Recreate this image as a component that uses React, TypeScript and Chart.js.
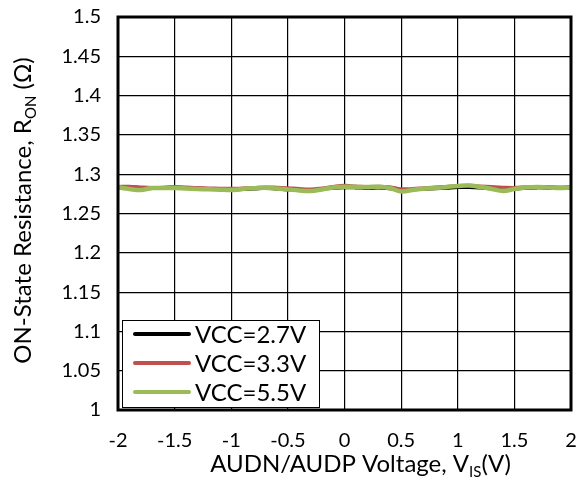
import React, { useEffect, useRef } from 'react';
import { Chart, registerables } from 'chart.js';

Chart.register(...registerables);

// ---- data ----
const xValues = [
  -2.0, -1.9, -1.8, -1.7, -1.6, -1.5, -1.4, -1.3, -1.2, -1.1, -1.0, -0.9, -0.8, -0.7,
  -0.6, -0.5, -0.4, -0.3, -0.2, -0.1, 0.0, 0.1, 0.2, 0.3, 0.4, 0.5, 0.6, 0.7, 0.8, 0.9,
  1.0, 1.1, 1.2, 1.3, 1.4, 1.5, 1.6, 1.7, 1.8, 1.9, 2.0,
];

const vcc27 = [
  1.2828, 1.2815, 1.2808, 1.2818, 1.2822, 1.2826, 1.2822, 1.2818, 1.2812, 1.2806, 1.28,
  1.2805, 1.2812, 1.282, 1.2812, 1.28, 1.2792, 1.2795, 1.2808, 1.2822, 1.2828, 1.2826,
  1.282, 1.2825, 1.2815, 1.28, 1.2802, 1.281, 1.2815, 1.2822, 1.283, 1.2832, 1.2825,
  1.2812, 1.28, 1.2808, 1.282, 1.2826, 1.2822, 1.2818, 1.2822,
];

const vcc33 = [
  1.2845, 1.2848, 1.2838, 1.2832, 1.2835, 1.2845, 1.2838, 1.283, 1.2826, 1.2822, 1.282,
  1.2825, 1.283, 1.2838, 1.2835, 1.2828, 1.2818, 1.2812, 1.2825, 1.2845, 1.2858, 1.285,
  1.284, 1.2848, 1.2842, 1.2815, 1.2818, 1.2828, 1.2838, 1.2845, 1.2852, 1.2858, 1.285,
  1.2842, 1.2835, 1.2832, 1.284, 1.2845, 1.2842, 1.2838, 1.2843,
];

const vcc55 = [
  1.2833, 1.2812, 1.2799, 1.2824, 1.2824, 1.2824, 1.2818, 1.2812, 1.2808, 1.2803, 1.2799,
  1.2812, 1.2821, 1.2828, 1.2818, 1.2806, 1.2793, 1.2786, 1.2806, 1.2831, 1.2841, 1.2837,
  1.2837, 1.2841, 1.2824, 1.278, 1.2799, 1.2816, 1.2824, 1.2837, 1.285, 1.2856, 1.2837,
  1.2812, 1.2786, 1.2812, 1.2831, 1.2837, 1.2831, 1.2824, 1.2831,
];

const seriesLabels = ['VCC=2.7V', 'VCC=3.3V', 'VCC=5.5V'];
const seriesColors = ['#000000', '#C0504D', '#9BBB59'];
const seriesWidths = [3, 3, 4.5];

const xTickLabels = ['-2', '-1.5', '-1', '-0.5', '0', '0.5', '1', '1.5', '2'];
const yTickLabels = ['1', '1.05', '1.1', '1.15', '1.2', '1.25', '1.3', '1.35', '1.4', '1.45', '1.5'];

const FONT = 'Lato, "Open Sans", sans-serif';

type Part = { text: string; sub?: boolean };

function drawRich(ctx: CanvasRenderingContext2D, parts: Part[], size: number) {
  const subSize = Math.round(size * 0.62);
  let total = 0;
  const widths = parts.map((p) => {
    ctx.font = `${p.sub ? subSize : size}px ${FONT}`;
    const w = ctx.measureText(p.text).width;
    total += w;
    return w;
  });
  let x = -total / 2;
  parts.forEach((p, i) => {
    ctx.font = `${p.sub ? subSize : size}px ${FONT}`;
    ctx.fillText(p.text, x, p.sub ? size * 0.2 : 0);
    x += widths[i];
  });
}

const framePlugin = {
  id: 'frameAndTitles',
  afterDatasetsDraw(chart: any) {
    const { ctx, chartArea } = chart;
    const { left, right, top, bottom } = chartArea;
    ctx.save();
    ctx.strokeStyle = '#000';
    ctx.lineWidth = 3;
    ctx.strokeRect(left, top, right - left, bottom - top);
    ctx.restore();
  },
  afterDraw(chart: any) {
    const { ctx, chartArea } = chart;
    const { left, right, top, bottom } = chartArea;
    ctx.save();
    ctx.fillStyle = '#000';
    ctx.textBaseline = 'alphabetic';
    ctx.textAlign = 'left';
    // x title
    ctx.save();
    ctx.translate((left + right) / 2 + 16, 472);
    drawRich(
      ctx,
      [{ text: 'AUDN/AUDP Voltage, V' }, { text: 'IS', sub: true }, { text: '(V)' }],
      24
    );
    ctx.restore();
    // y title
    ctx.save();
    ctx.translate(31, (top + bottom) / 2 - 3);
    ctx.rotate(-Math.PI / 2);
    drawRich(
      ctx,
      [{ text: 'ON-State Resistance, R' }, { text: 'ON', sub: true }, { text: ' (\u03A9)' }],
      24
    );
    ctx.restore();

    // legend
    const bx = left + 4;
    const by = bottom - 90;
    const bw = 197;
    const bh = 87;
    ctx.fillStyle = '#fff';
    ctx.fillRect(bx, by, bw, bh);
    ctx.strokeStyle = '#000';
    ctx.lineWidth = 1;
    ctx.strokeRect(bx + 0.5, by + 0.5, bw, bh);
    ctx.font = `24px ${FONT}`;
    ctx.textBaseline = 'middle';
    seriesLabels.forEach((label, i) => {
      const cy = by + 14 + i * 29;
      ctx.strokeStyle = seriesColors[i];
      ctx.lineWidth = 4;
      ctx.lineCap = 'round';
      ctx.beginPath();
      ctx.moveTo(bx + 13, cy);
      ctx.lineTo(bx + 67, cy);
      ctx.stroke();
      ctx.fillStyle = '#000';
      ctx.fillText(label, bx + 73, cy + 1);
    });
    ctx.restore();
  },
};

export default function App() {
  const ref = useRef<HTMLCanvasElement>(null);
  useEffect(() => {
    document.body.style.margin = '0';
    const series = [vcc27, vcc33, vcc55];
    const chart = new Chart(ref.current as HTMLCanvasElement, {
      type: 'line',
      data: {
        datasets: series.map((vals, i) => ({
          label: seriesLabels[i],
          data: vals.map((v, j) => ({ x: xValues[j], y: v })),
          borderColor: seriesColors[i],
          backgroundColor: seriesColors[i],
          borderWidth: seriesWidths[i],
          pointRadius: 0,
          tension: 0.4,
          fill: false,
          order: 2 - i,
        })),
      },
      options: {
        responsive: false,
        animation: false,
        devicePixelRatio: 1,
        layout: { padding: { top: 17, right: 13, left: 0, bottom: 0 } },
        plugins: { legend: { display: false }, tooltip: { enabled: false } },
        scales: {
          x: {
            type: 'linear',
            min: -2,
            max: 2,
            afterBuildTicks: (scale: any) => {
              scale.ticks = xTickLabels.map((t) => ({ value: parseFloat(t) }));
            },
            afterFit: (scale: any) => {
              scale.height = 69;
              scale.paddingLeft = 0;
              scale.paddingRight = 0;
            },
            ticks: {
              callback: (_v: any, i: number) => xTickLabels[i],
              color: '#000',
              font: { family: FONT, size: 20 },
              padding: 19,
              maxRotation: 0,
            },
            grid: { color: '#000', lineWidth: 1.2, drawTicks: false },
            border: { display: false },
          },
          y: {
            type: 'linear',
            min: 1,
            max: 1.5,
            afterBuildTicks: (scale: any) => {
              scale.ticks = yTickLabels.map((t) => ({ value: parseFloat(t) }));
            },
            afterFit: (scale: any) => {
              scale.width = 118;
              scale.paddingTop = 0;
              scale.paddingBottom = 0;
            },
            ticks: {
              callback: (_v: any, i: number) => yTickLabels[i],
              color: '#000',
              font: { family: FONT, size: 20 },
              padding: 17,
            },
            grid: { color: '#000', lineWidth: 1.2, drawTicks: false },
            border: { display: false },
          },
        },
      },
      plugins: [framePlugin],
    } as any);
    return () => chart.destroy();
  }, []);
  return (
    <div style={{ width: 584, height: 479 }}>
      <canvas ref={ref} width={584} height={479} style={{ display: 'block' }} />
    </div>
  );
}
